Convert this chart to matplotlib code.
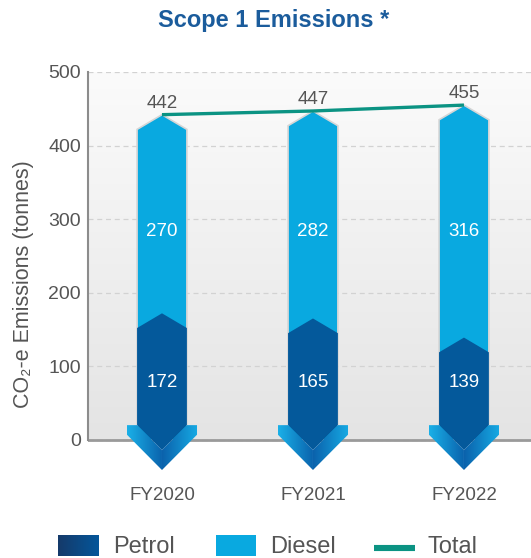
import numpy as np
import matplotlib
matplotlib.use('Agg')
import matplotlib.pyplot as plt
from matplotlib.patches import Polygon, Rectangle
from matplotlib.lines import Line2D
from matplotlib.colors import LinearSegmentedColormap

years = ['FY2020', 'FY2021', 'FY2022']
petrol = [172, 165, 139]
diesel = [270, 282, 316]
total = [442, 447, 455]

plt.rcParams['font.family'] = ['Liberation Sans', 'DejaVu Sans']

PETROL = '#04599b'
DIESEL = '#09a9e0'
TOTAL = '#0b9383'
GREY = '#555555'

W, H = 531, 558
fig = plt.figure(figsize=(W / 100, H / 100), dpi=100)
ax = fig.add_axes([88 / W, 1 - 484 / H, 443 / W, 412 / H])

x0, x1 = -0.49, 2.444

# plot area gradient
bg = LinearSegmentedColormap.from_list('bg', ['#e4e4e4', '#fbfbfb'])
ax.imshow(np.linspace(0, 1, 256).reshape(-1, 1), cmap=bg, origin='lower',
          extent=(x0, x1, 0, 500), aspect='auto', zorder=0)

ax.set_yticks(range(0, 501, 100))
ax.yaxis.grid(True, color='#d2d2d2', lw=0.9, ls=(0, (4, 3)))
ax.set_axisbelow(True)

for s in ['top', 'right', 'bottom']:
    ax.spines[s].set_visible(False)
ax.spines['left'].set_bounds(0, 500)
ax.spines['left'].set_color('#8c8c8c')
ax.spines['left'].set_linewidth(1.5)
ax.axhline(0, color='#9a9a9a', lw=2, zorder=2)

w = 0.165    # half bar width
wo = 0.232   # half arrow width
cap = 20     # height of the pointed tops

left_cm = LinearSegmentedColormap.from_list('lw', ['#1ab0e8', '#0a62ac'])
right_cm = LinearSegmentedColormap.from_list('rw', ['#0b62ac', '#16aae4'])

for i in range(len(years)):
    x = i
    t = total[i]
    ax.add_patch(Polygon([(x - w, 0), (x - w, t - cap), (x, t), (x + w, t - cap), (x + w, 0)],
                         closed=True, fc=DIESEL, ec='#d6d6d6', lw=1.2, zorder=3))
    p = petrol[i]
    ax.add_patch(Polygon([(x - w, 20), (x - w, p - cap), (x, p), (x + w, p - cap), (x + w, 20), (x, -14)],
                         closed=True, fc=PETROL, ec='none', zorder=3.5))

    # arrow wings at the bottom
    lpts = [(x - wo, 20), (x - w, 20), (x, -14), (x, -41), (x - wo, 7)]
    rpts = [(x + wo, 20), (x + w, 20), (x, -14), (x, -41), (x + wo, 7)]
    for pts, cm, ext in [(lpts, left_cm, (x - wo, x, -41, 20)), (rpts, right_cm, (x, x + wo, -41, 20))]:
        poly = Polygon(pts, closed=True, transform=ax.transData)
        im = ax.imshow(np.linspace(0, 1, 64).reshape(1, -1), cmap=cm, extent=ext,
                       aspect='auto', zorder=4)
        im.set_clip_path(poly)

    ax.text(x, 78, str(petrol[i]), color='white', ha='center', va='center', fontsize=13.5, zorder=6)
    ax.text(x, 283, str(diesel[i]), color='white', ha='center', va='center', fontsize=13.5, zorder=6)
    ax.annotate(str(t), (x, t), xytext=(0, 2), textcoords='offset points',
                ha='center', va='bottom', color=GREY, fontsize=13.5, zorder=6)

ax.plot(range(len(years)), total, color=TOTAL, lw=2.4, zorder=5, solid_capstyle='butt')

ax.set_xlim(x0, x1)
ax.set_ylim(-60, 500)
ax.set_xticks(range(len(years)), years)
ax.tick_params(axis='x', length=0, pad=2, labelsize=13.5, labelcolor=GREY)
ax.tick_params(axis='y', length=0, pad=5, labelsize=14, labelcolor=GREY)

fig.text(24 / W, 1 - 284 / H, 'CO\u2082-e Emissions (tonnes)', rotation=90,
         ha='center', va='center', fontsize=15.5, color=GREY)

fig.text(274 / W, 1 - 20 / H, 'Scope 1 Emissions *', ha='center', va='center',
         fontsize=17, fontweight='bold', color='#1b5c9c')

# legend
lax = fig.add_axes([58 / W, 1 - 556 / H, 41 / W, 21 / H])
lax.imshow(np.linspace(0, 1, 64).reshape(1, -1), aspect='auto',
           cmap=LinearSegmentedColormap.from_list('pl', ['#153a6a', '#04569a']))
lax.axis('off')
fig.add_artist(Rectangle((216 / W, 1 - 556 / H), 40 / W, 21 / H, transform=fig.transFigure,
                         fc=DIESEL, ec='none'))
fig.add_artist(Line2D([374 / W, 415 / W], [1 - 548 / H, 1 - 548 / H], transform=fig.transFigure,
                      color=TOTAL, lw=4.4, solid_capstyle='butt'))
fig.text(113 / W, 0.0, 'Petrol', fontsize=17, color=GREY, va='bottom')
fig.text(270 / W, 0.0, 'Diesel', fontsize=17, color=GREY, va='bottom')
fig.text(428 / W, 0.0, 'Total', fontsize=17, color=GREY, va='bottom')

fig.savefig('out.png', dpi=100)
